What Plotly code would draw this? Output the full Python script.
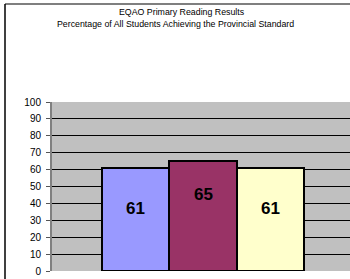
import plotly.graph_objects as go

categories = ["Series A", "Series B", "Series C"]
values = [61, 65, 61]
colors = ["#9999FF", "#993366", "#FFFFCC"]
label_shift = [-41, -33, -41]
yticks = [0, 10, 20, 30, 40, 50, 60, 70, 80, 90, 100]
title_lines = ["EQAO Primary Reading Results",
               "Percentage of All Students Achieving the Provincial Standard"]

W, H = 350, 279
fig = go.Figure()
fig.add_trace(go.Bar(
    x=categories, y=values,
    marker=dict(color=colors, line=dict(color="black", width=2)),
    hoverinfo="skip", showlegend=False,
))
for c, v, s in zip(categories, values, label_shift):
    fig.add_annotation(x=c, y=v, yshift=s, text="<b>" + str(v) + "</b>", showarrow=False,
                       font=dict(family="Liberation Sans, Arial", size=17, color="black"),
                       xref="x", yref="y")

for txt, cx, cy in zip(title_lines, [182, 175], [12, 24]):
    fig.add_annotation(text=txt, x=cx / W, y=1 - cy / H, xref="paper", yref="paper",
                       xanchor="center", yanchor="middle", showarrow=False,
                       font=dict(family="Liberation Sans, Arial", size=8.8, color="black"))

fig.update_layout(
    width=W, height=H,
    margin=dict(l=0, r=0, t=0, b=0),
    paper_bgcolor="white", plot_bgcolor="#C0C0C0",
    bargap=0,
    xaxis=dict(domain=[52 / W, 1], range=[-1.244, 3.184], showticklabels=False,
               showgrid=False, zeroline=False, fixedrange=True, automargin=False),
    yaxis=dict(domain=[(H - 271) / H, (H - 102) / H], range=[0, 100], automargin=False,
               tickvals=yticks, ticks="outside", ticklen=4, tickcolor="#555555",
               showline=True, linecolor="#808080", linewidth=2,
               gridcolor="black", gridwidth=1, zeroline=False, fixedrange=True,
               ticklabelstandoff=3,
               tickfont=dict(family="Liberation Sans, Arial", size=10, color="black")),
)
fig.add_shape(type="line", xref="paper", yref="paper",
              x0=5 / W, x1=1, y0=1 - 4 / H, y1=1 - 4 / H,
              line=dict(color="#555555", width=1.5))
fig.add_shape(type="line", xref="paper", yref="paper",
              x0=5 / W, x1=5 / W, y0=0, y1=1 - 4 / H,
              line=dict(color="black", width=1.5))
fig.write_html("out.html", config={"displayModeBar": False},
               post_script="document.body.style.margin='0';document.body.style.overflow='hidden';")
